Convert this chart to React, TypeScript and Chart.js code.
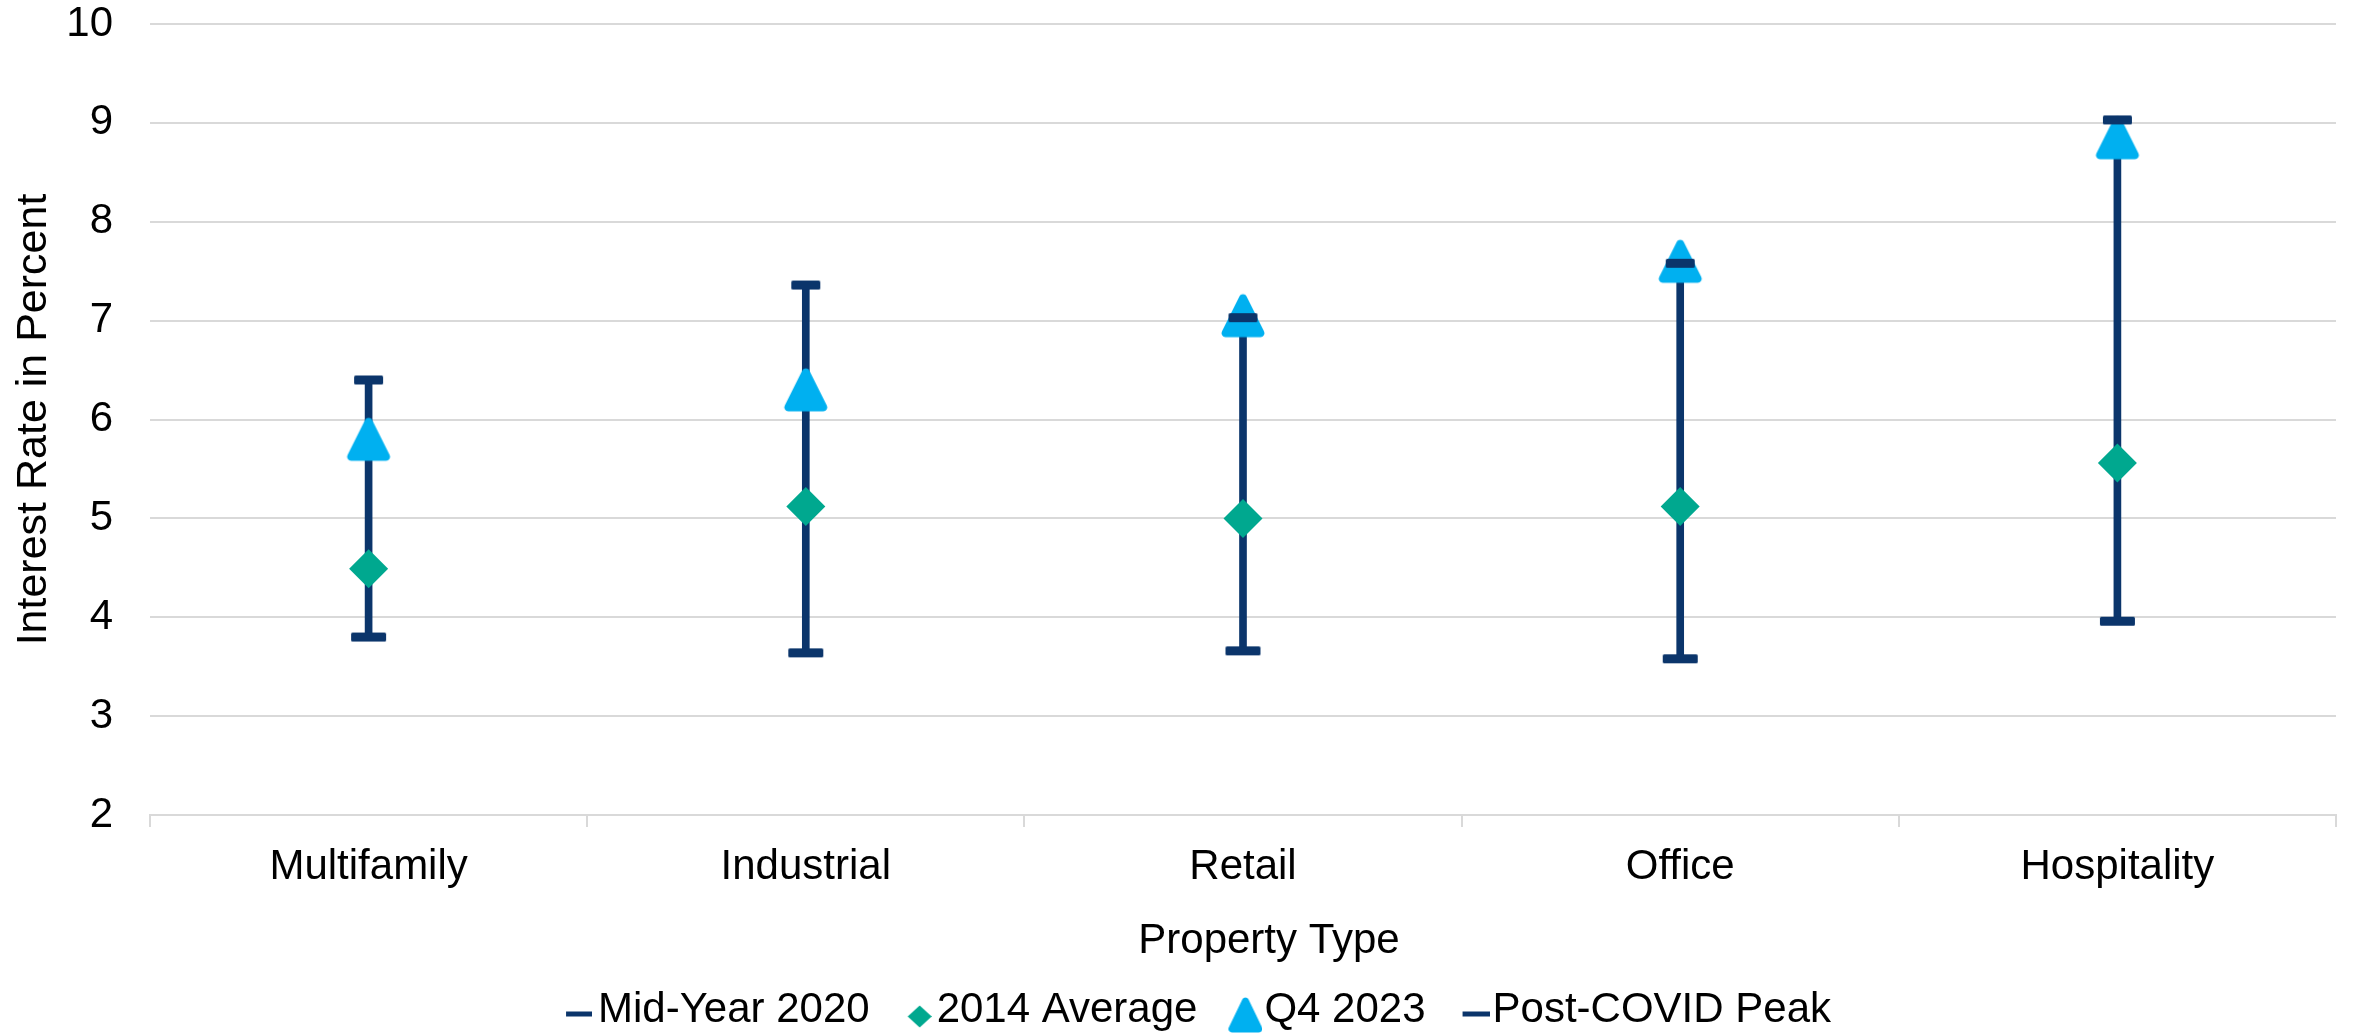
import { useEffect, useRef } from 'react';
import { Chart, registerables } from 'chart.js';

Chart.register(...registerables);

// Property types along the x axis
const categories = ['Multifamily', 'Industrial', 'Retail', 'Office', 'Hospitality'];

// Interest rates in percent per property type
const midYear2020 = [3.8, 3.64, 3.66, 3.58, 3.96];
const average2014 = [4.49, 5.12, 5.0, 5.12, 5.56];
const q4of2023 = [5.8, 6.3, 7.05, 7.6, 8.85];
const postCovidPeak = [6.4, 7.36, 7.03, 7.58, 9.03];

const seriesNames = ['Mid-Year 2020', '2014 Average', 'Q4 2023', 'Post-COVID Peak'];

const yMin = 2;
const yMax = 10;
const yStep = 1;

const yAxisTitle = 'Interest Rate in Percent';
const xAxisTitle = 'Property Type';

const NAVY = '#0B356B';
const TEAL = '#00A88F';
const SKY = '#00B0F0';
const GRID = '#D9D9D9';
const FONT = '"Liberation Sans", Arial, Helvetica, sans-serif';
const FONT_SIZE = 42;

function makeCanvas(w: number, h: number, paint: (ctx: CanvasRenderingContext2D) => void) {
  const c = document.createElement('canvas');
  c.width = w;
  c.height = h;
  const ctx = c.getContext('2d') as CanvasRenderingContext2D;
  paint(ctx);
  return c;
}

// Triangle with rounded corners whose visible box is visW x visH
function roundedTriangle(
  ctx: CanvasRenderingContext2D,
  cx: number,
  visTop: number,
  visW: number,
  visH: number,
  r: number,
) {
  let hg = visH + r;
  let hw = visW / 2 + r;
  let rec = 0;
  for (let i = 0; i < 10; i++) {
    const baseAngle = Math.atan2(hg, hw);
    hw = visW / 2 + r / Math.tan(baseAngle / 2) - r;
    const halfApex = Math.atan2(hw, hg);
    rec = r / Math.sin(halfApex) - r;
    hg = visH + rec;
  }
  const ay = visTop - rec;
  const by = ay + hg;
  const lx = cx - hw;
  const rx = cx + hw;
  ctx.beginPath();
  ctx.moveTo(cx, by);
  ctx.arcTo(rx, by, cx, ay, r);
  ctx.arcTo(cx, ay, lx, by, r);
  ctx.arcTo(lx, by, rx, by, r);
  ctx.closePath();
  ctx.fill();
}

// Flat bar with slightly softened ends, centred in its canvas
function capMarker(w: number, h: number) {
  const cw = Math.ceil(w) + 2;
  const ch = Math.ceil(h) + 2;
  return makeCanvas(cw, ch, (ctx) => {
    ctx.fillStyle = NAVY;
    const x = (cw - w) / 2;
    const y = (ch - h) / 2;
    const r = 1.5;
    ctx.beginPath();
    ctx.moveTo(x + r, y);
    ctx.arcTo(x + w, y, x + w, y + h, r);
    ctx.arcTo(x + w, y + h, x, y + h, r);
    ctx.arcTo(x, y + h, x, y, r);
    ctx.arcTo(x, y, x + w, y, r);
    ctx.closePath();
    ctx.fill();
  });
}

export default function App() {
  const ref = useRef<HTMLCanvasElement>(null);

  useEffect(() => {
    const canvas = ref.current;
    if (!canvas) return;

    // Markers drawn on the chart
    const lowCap = capMarker(35, 9);
    const highCap = capMarker(29, 9);
    const triangleMarker = makeCanvas(52, 54, (ctx) => {
      ctx.fillStyle = SKY;
      roundedTriangle(ctx, 26, 5.5, 43, 43, 4);
    });

    // Legend swatches, drawn right-aligned so they sit just before their text
    const legendLine = (w: number, iconW: number) =>
      makeCanvas(w, 40, (ctx) => {
        ctx.fillStyle = NAVY;
        ctx.fillRect(w - iconW, 20 + 4 - 2.5, iconW, 5);
      });
    const legendDiamond = makeCanvas(72, 40, (ctx) => {
      ctx.fillStyle = TEAL;
      const cx = 60;
      const cy = 20 + 6.5;
      ctx.beginPath();
      ctx.moveTo(cx, cy - 11);
      ctx.lineTo(cx + 12, cy);
      ctx.lineTo(cx, cy + 11);
      ctx.lineTo(cx - 12, cy);
      ctx.closePath();
      ctx.fill();
    });
    const legendTriangle = makeCanvas(78, 50, (ctx) => {
      ctx.fillStyle = SKY;
      roundedTriangle(ctx, 61, 25 + 5 - 17.5, 34, 35, 3.5);
    });
    const legendIcons = [legendLine(70, 26), legendDiamond, legendTriangle, legendLine(76, 27)];

    // Draws the legend row slightly right of and below its default slot
    const legendOffset = { dx: 16, dy: 5 };
    const legendShift = {
      id: 'legendShift',
      afterLayout(chart: any) {
        const lg = chart.legend;
        if (!lg || lg.__shifted) return;
        const drawLegend = lg.draw.bind(lg);
        lg.draw = (...args: any[]) => {
          const ctx = chart.ctx;
          ctx.save();
          ctx.translate(legendOffset.dx, legendOffset.dy);
          drawLegend(...args);
          ctx.restore();
        };
        lg.__shifted = true;
      },
    };

    // x axis title, centred a little right of the plot centre
    const xTitle = {
      id: 'xTitle',
      afterDraw(chart: any) {
        const { ctx, chartArea } = chart;
        ctx.save();
        ctx.font = `${FONT_SIZE}px ${FONT}`;
        ctx.fillStyle = '#000';
        ctx.textAlign = 'center';
        ctx.textBaseline = 'middle';
        ctx.fillText(xAxisTitle, (chartArea.left + chartArea.right) / 2 + 26, chartArea.bottom + 126);
        ctx.restore();
      },
    };

    Chart.defaults.font.family = FONT;
    Chart.defaults.color = '#000';

    const chart = new Chart(canvas, {
      type: 'line',
      data: {
        labels: categories,
        datasets: [
          {
            label: seriesNames[0],
            data: midYear2020,
            showLine: false,
            pointStyle: lowCap,
            pointRadius: 1,
            pointBorderWidth: 0,
            pointBackgroundColor: NAVY,
            borderColor: NAVY,
            backgroundColor: NAVY,
            order: 1,
          },
          {
            label: seriesNames[1],
            data: average2014,
            showLine: false,
            pointStyle: 'rectRot',
            pointRadius: 19.5,
            pointBorderWidth: 0,
            pointBackgroundColor: TEAL,
            pointBorderColor: TEAL,
            borderColor: TEAL,
            backgroundColor: TEAL,
            order: 3,
          },
          {
            label: seriesNames[2],
            data: q4of2023,
            showLine: false,
            pointStyle: triangleMarker,
            pointRadius: 1,
            pointBorderWidth: 0,
            pointBackgroundColor: SKY,
            borderColor: SKY,
            backgroundColor: SKY,
            order: 2,
          },
          {
            label: seriesNames[3],
            data: postCovidPeak,
            showLine: false,
            pointStyle: highCap,
            pointRadius: 1,
            pointBorderWidth: 0,
            pointBackgroundColor: NAVY,
            borderColor: NAVY,
            backgroundColor: NAVY,
            order: 0,
          },
          {
            type: 'bar',
            label: 'range',
            data: categories.map((_, i) => [midYear2020[i], postCovidPeak[i]]),
            backgroundColor: NAVY,
            borderWidth: 0,
            barThickness: 7,
            grouped: false,
            order: 4,
          } as any,
        ],
      },
      options: {
        responsive: false,
        animation: false,
        events: [],
        layout: { padding: { top: 24, right: 23, bottom: 0, left: 0 } },
        scales: {
          x: {
            type: 'category',
            offset: true,
            grid: {
              offset: true,
              drawOnChartArea: false,
              color: GRID,
              lineWidth: 2,
              tickLength: 12,
            },
            border: { color: GRID, width: 2 },
            ticks: { font: { size: FONT_SIZE }, color: '#000', padding: 15, maxRotation: 0 },
            afterFit(scale: any) {
              scale.height = 163;
            },
          },
          y: {
            min: yMin,
            max: yMax,
            ticks: {
              stepSize: yStep,
              font: { size: FONT_SIZE, lineHeight: 1 },
              color: '#000',
              padding: 37,
            },
            grid: { color: GRID, lineWidth: 2, drawTicks: false },
            border: { display: false },
            title: {
              display: true,
              text: yAxisTitle,
              font: { size: 43 },
              color: '#000',
              padding: { top: 8, bottom: 0 },
            },
            afterFit(scale: any) {
              scale.width = 150;
              scale.paddingTop = 0;
              scale.paddingBottom = 0;
            },
          },
        },
        plugins: {
          tooltip: { enabled: false },
          legend: {
            position: 'bottom',
            labels: {
              usePointStyle: true,
              pointStyleWidth: 40,
              padding: 6,
              color: '#000',
              font: { size: FONT_SIZE },
              generateLabels: (ch: any) => {
                const base = (Chart.defaults.plugins.legend.labels as any).generateLabels(ch);
                return base.map((item: any) => ({
                  ...item,
                  pointStyle: legendIcons[item.datasetIndex] ?? item.pointStyle,
                }));
              },
              filter: (item: any) => item.datasetIndex < 4,
              sort: (a: any, b: any) => a.datasetIndex - b.datasetIndex,
            },
          },
        },
      },
      plugins: [legendShift, xTitle],
    } as any);

    return () => chart.destroy();
  }, []);

  return (
    <div style={{ position: 'absolute', left: 0, top: 0, width: 2359, height: 1036, background: '#fff' }}>
      <canvas ref={ref} width={2359} height={1036} style={{ display: 'block' }} />
    </div>
  );
}
